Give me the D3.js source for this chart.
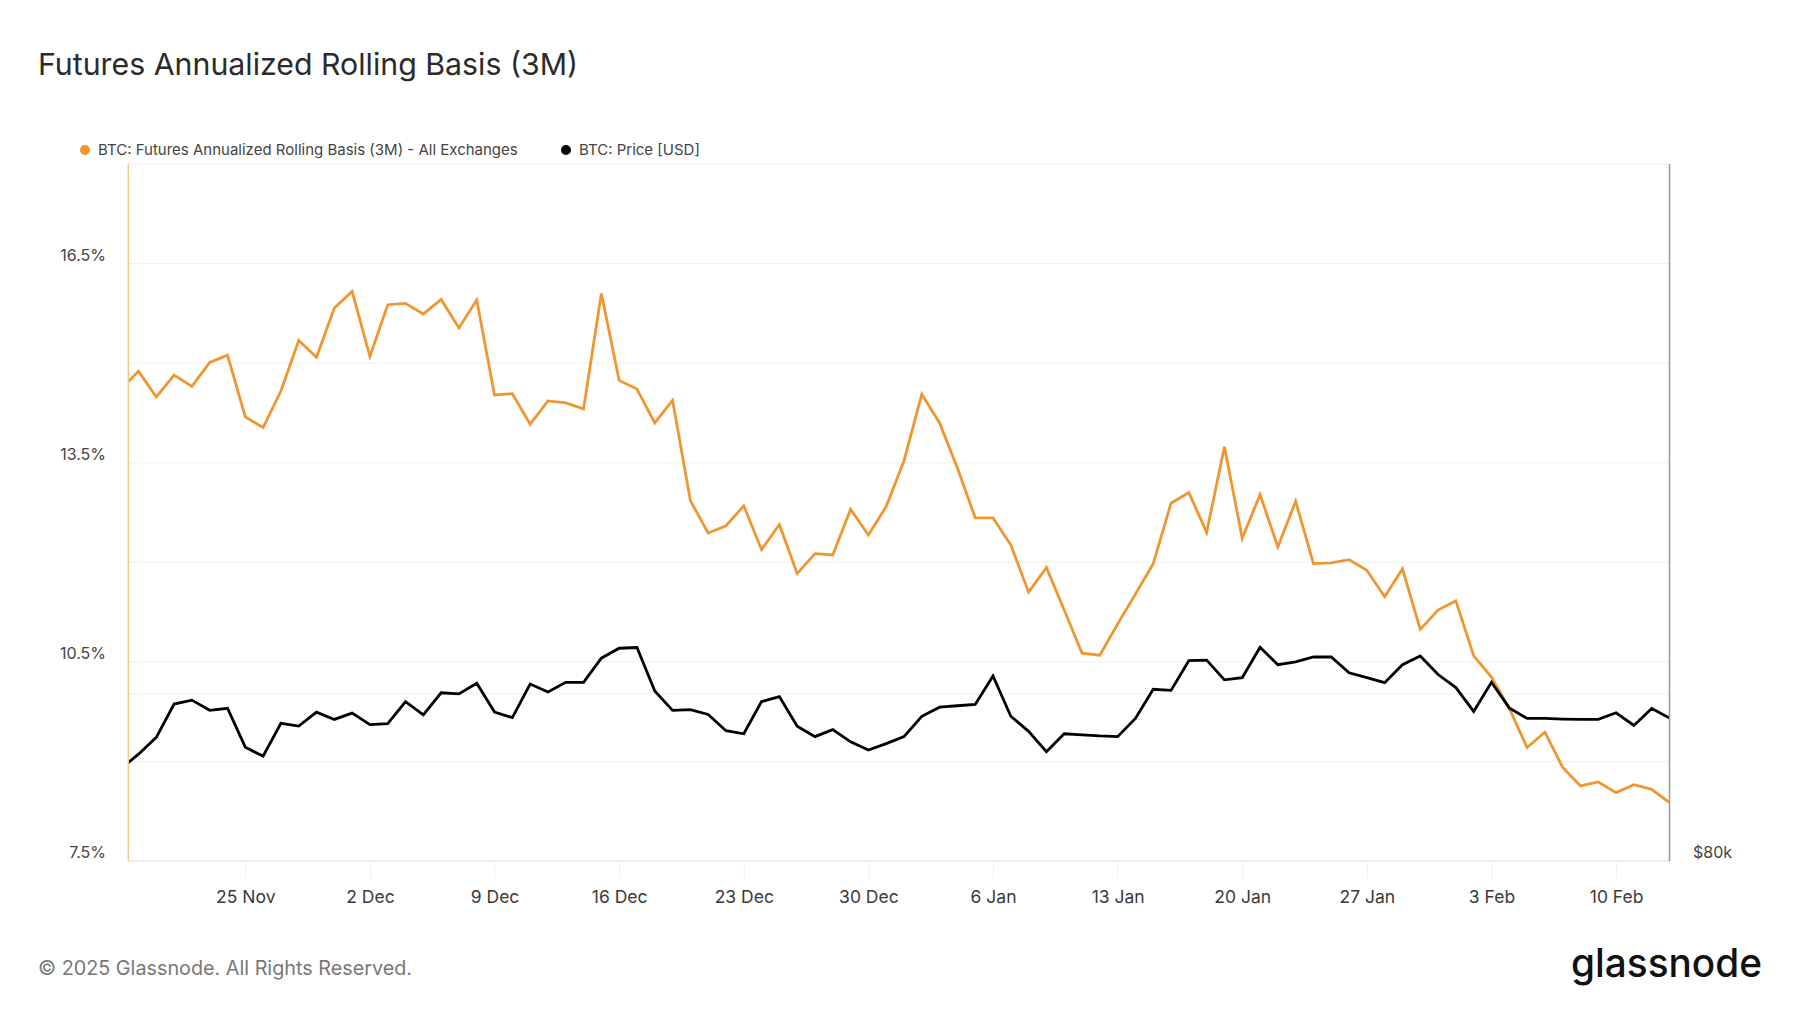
<!DOCTYPE html>
<html>
<head>
<meta charset="utf-8">
<script src="https://cdn.jsdelivr.net/npm/d3@7"></script>
<style>
  body { margin: 0; background: #fff; }
  text { font-family: Inter, "Noto Sans", sans-serif; }
</style>
</head>
<body>
<div id="container"></div>
<script>
// daily values, 18 Nov 2024 .. 13 Feb 2025
const startDay = "2024-11-18";
const endDay = "2025-02-13";

const basisValues = [
  14.60, 14.88, 14.49, 14.82, 14.65, 15.01, 15.12, 14.19, 14.03, 14.58, 15.34, 15.09, 15.83,
  16.08, 15.10, 15.88, 15.90, 15.74, 15.96, 15.53, 15.95, 14.52, 14.54, 14.08, 14.43, 14.40,
  14.31, 16.05, 14.74, 14.61, 14.10, 14.44, 12.93, 12.44, 12.55, 12.85, 12.19, 12.57, 11.83,
  12.13, 12.11, 12.80, 12.41, 12.84,
  13.53, 14.53, 14.10, 13.42, 12.67, 12.67, 12.26, 11.55, 11.92, 11.28, 10.63, 10.60, 11.07,
  11.52, 11.98, 12.89, 13.05, 12.45, 13.74, 12.36, 13.02, 12.23, 12.92, 11.98, 11.99, 12.04,
  11.88, 11.48, 11.90, 10.99, 11.28,
  11.42, 10.59, 10.27, 9.80, 9.21, 9.44, 8.91, 8.63, 8.69, 8.53, 8.65, 8.58, 8.38
];

const priceValues = [
  91030, 92800, 94810, 98800, 99270, 98050, 98300, 93640, 92550, 96500, 96160, 97840, 96960,
  97710, 96330, 96450, 99100, 97500, 100150, 100020, 101300, 97840, 97170, 101200, 100240, 101410,
  101410, 104300, 105490, 105570, 100360, 98050, 98130, 97550, 95610, 95240, 99100, 99690, 96160,
  94900, 95740, 94270, 93300, 94060,
  94900, 97340, 98430, 98600, 98760, 102170, 97340, 95530, 93090, 95240, 95110, 94980, 94900,
  97080, 100570, 100440, 104000, 104060, 101700, 101960, 105610, 103510, 103850, 104440, 104440, 102550,
  101960, 101370, 103510, 104560, 102340,
  100780, 97920, 101410, 98340, 97080, 97080, 97000, 96960, 96960, 97760, 96240, 98260, 97130
];

const tickDays = ["2024-11-25", "2024-12-02", "2024-12-09", "2024-12-16", "2024-12-23", "2024-12-30",
  "2025-01-06", "2025-01-13", "2025-01-20", "2025-01-27", "2025-02-03", "2025-02-10"];
const basisTicks = [9, 10.5, 12, 13.5, 15, 16.5];
const basisLabels = [7.5, 10.5, 13.5, 16.5];
const priceTicks = [100000];
const priceLabels = [80000];

const parse = d3.utcParse("%Y-%m-%d");
const days = d3.utcDay.range(parse(startDay), d3.utcDay.offset(parse(endDay), 1));
const basisData = days.map((d, i) => ({ date: d, value: basisValues[i] }));
const priceData = days.map((d, i) => ({ date: d, value: priceValues[i] }));

const W = 1800, H = 1013;
const plotLeft = 128.3, plotRight = 1669.5, plotTop = 164, plotBottom = 861;

const svg = d3.select("#container").append("svg")
    .attr("width", W)
    .attr("height", H);

svg.append("rect").attr("width", W).attr("height", H).attr("fill", "#fff");

const x = d3.scaleUtc()
    .domain([new Date(Date.UTC(2024, 10, 18, 10, 15)), parse(endDay)])
    .range([plotLeft, plotRight]);

const yBasis = d3.scaleLinear().domain([7.5, 18]).range([plotBottom, plotTop]);
const yPrice = d3.scaleLinear().domain([80000, 163500]).range([plotBottom, plotTop]);

// title
svg.append("text")
    .text("Futures Annualized Rolling Basis (3M)")
    .attr("x", 38)
    .attr("y", 75)
    .attr("font-size", 30.3)
    .attr("fill", "#2b2b2b");

// legend
const legend = [
  { label: "BTC: Futures Annualized Rolling Basis (3M) - All Exchanges", color: "#f0962a", x: 85 },
  { label: "BTC: Price [USD]", color: "#000", x: 566 }
];
legend.forEach(l => {
  svg.append("circle").attr("cx", l.x).attr("cy", 150).attr("r", 5).attr("fill", l.color);
  svg.append("text")
      .text(l.label)
      .attr("x", l.x + 13)
      .attr("y", 155)
      .attr("font-size", 15)
      .attr("fill", "#444");
});

// gridlines
svg.append("g")
  .selectAll("line")
  .data(basisTicks)
  .join("line")
    .attr("x1", plotLeft).attr("x2", plotRight)
    .attr("y1", d => yBasis(d)).attr("y2", d => yBasis(d))
    .attr("stroke", "#f0f0f0")
    .attr("stroke-width", 1);

svg.append("g")
  .selectAll("line")
  .data(priceTicks)
  .join("line")
    .attr("x1", plotLeft).attr("x2", plotRight)
    .attr("y1", d => yPrice(d)).attr("y2", d => yPrice(d))
    .attr("stroke", "#f0f0f0")
    .attr("stroke-width", 1);

// frame
svg.append("line").attr("x1", plotLeft).attr("x2", plotRight).attr("y1", plotTop).attr("y2", plotTop)
    .attr("stroke", "#ececec");
svg.append("line").attr("x1", plotLeft).attr("x2", plotRight).attr("y1", plotBottom).attr("y2", plotBottom)
    .attr("stroke", "#dedede");

// x axis
const xAxis = d3.axisBottom(x)
    .tickValues(tickDays.map(parse))
    .tickFormat(d3.utcFormat("%-d %b"))
    .tickSize(18)
    .tickPadding(12);
const gx = svg.append("g")
    .attr("transform", `translate(0,${plotBottom})`)
    .call(xAxis);
gx.select(".domain").remove();
gx.selectAll(".tick line").attr("stroke", "#efefef");
gx.selectAll(".tick text")
    .attr("font-size", 17.5)
    .attr("font-family", "Inter, sans-serif")
    .attr("fill", "#3a3a3a")
    .attr("dy", "0.71em");

// left axis labels
const yAxis = d3.axisLeft(yBasis)
    .tickValues(basisLabels)
    .tickFormat(d => d3.format(".1f")(d) + "%")
    .tickSize(0)
    .tickPadding(plotLeft - 106);
const gy = svg.append("g").attr("transform", `translate(${plotLeft},0)`).call(yAxis);
gy.select(".domain").remove();
gy.selectAll(".tick text")
    .attr("font-size", 16)
    .attr("font-family", "Inter, sans-serif")
    .attr("fill", "#444")
    .attr("dy", -3.5);

// right axis labels
const yAxisR = d3.axisRight(yPrice)
    .tickValues(priceLabels)
    .tickFormat(d => "$" + d / 1000 + "k")
    .tickSize(0)
    .tickPadding(1693 - plotRight);
const gyr = svg.append("g").attr("transform", `translate(${plotRight},0)`).call(yAxisR);
gyr.select(".domain").remove();
gyr.selectAll(".tick text")
    .attr("font-size", 16)
    .attr("font-family", "Inter, sans-serif")
    .attr("fill", "#444")
    .attr("dy", -3.5);

// clip
svg.append("clipPath").attr("id", "plot-clip")
  .append("rect")
    .attr("x", plotLeft).attr("y", plotTop)
    .attr("width", plotRight - plotLeft).attr("height", plotBottom - plotTop);

const basisLine = d3.line().x(d => x(d.date)).y(d => yBasis(d.value));
const priceLine = d3.line().x(d => x(d.date)).y(d => yPrice(d.value));

const plot = svg.append("g").attr("clip-path", "url(#plot-clip)");

plot.append("path")
    .datum(basisData)
    .attr("d", basisLine)
    .attr("fill", "none")
    .attr("stroke", "#ef9630")
    .attr("stroke-width", 2.8)
    .attr("stroke-linejoin", "miter");

plot.append("path")
    .datum(priceData)
    .attr("d", priceLine)
    .attr("fill", "none")
    .attr("stroke", "#000")
    .attr("stroke-width", 2.8)
    .attr("stroke-linejoin", "miter");

// axis lines left (orange) and right (grey)
svg.append("line").attr("x1", plotLeft).attr("x2", plotLeft).attr("y1", plotTop).attr("y2", plotBottom)
    .attr("stroke", "#f3c890").attr("stroke-width", 1.5);
svg.append("line").attr("x1", plotRight).attr("x2", plotRight).attr("y1", plotTop).attr("y2", plotBottom)
    .attr("stroke", "#999").attr("stroke-width", 1.5);

// footer
svg.append("text")
    .text("© 2025 Glassnode. All Rights Reserved.")
    .attr("x", 38)
    .attr("y", 975)
    .attr("font-size", 19.8)
    .attr("fill", "#777");

svg.append("text")
    .text("glassnode")
    .attr("x", 1571)
    .attr("y", 977)
    .attr("font-size", 39)
    .attr("font-weight", 500)
    .attr("textLength", 191)
    .attr("lengthAdjust", "spacingAndGlyphs")
    .attr("fill", "#111");
</script>
</body>
</html>
